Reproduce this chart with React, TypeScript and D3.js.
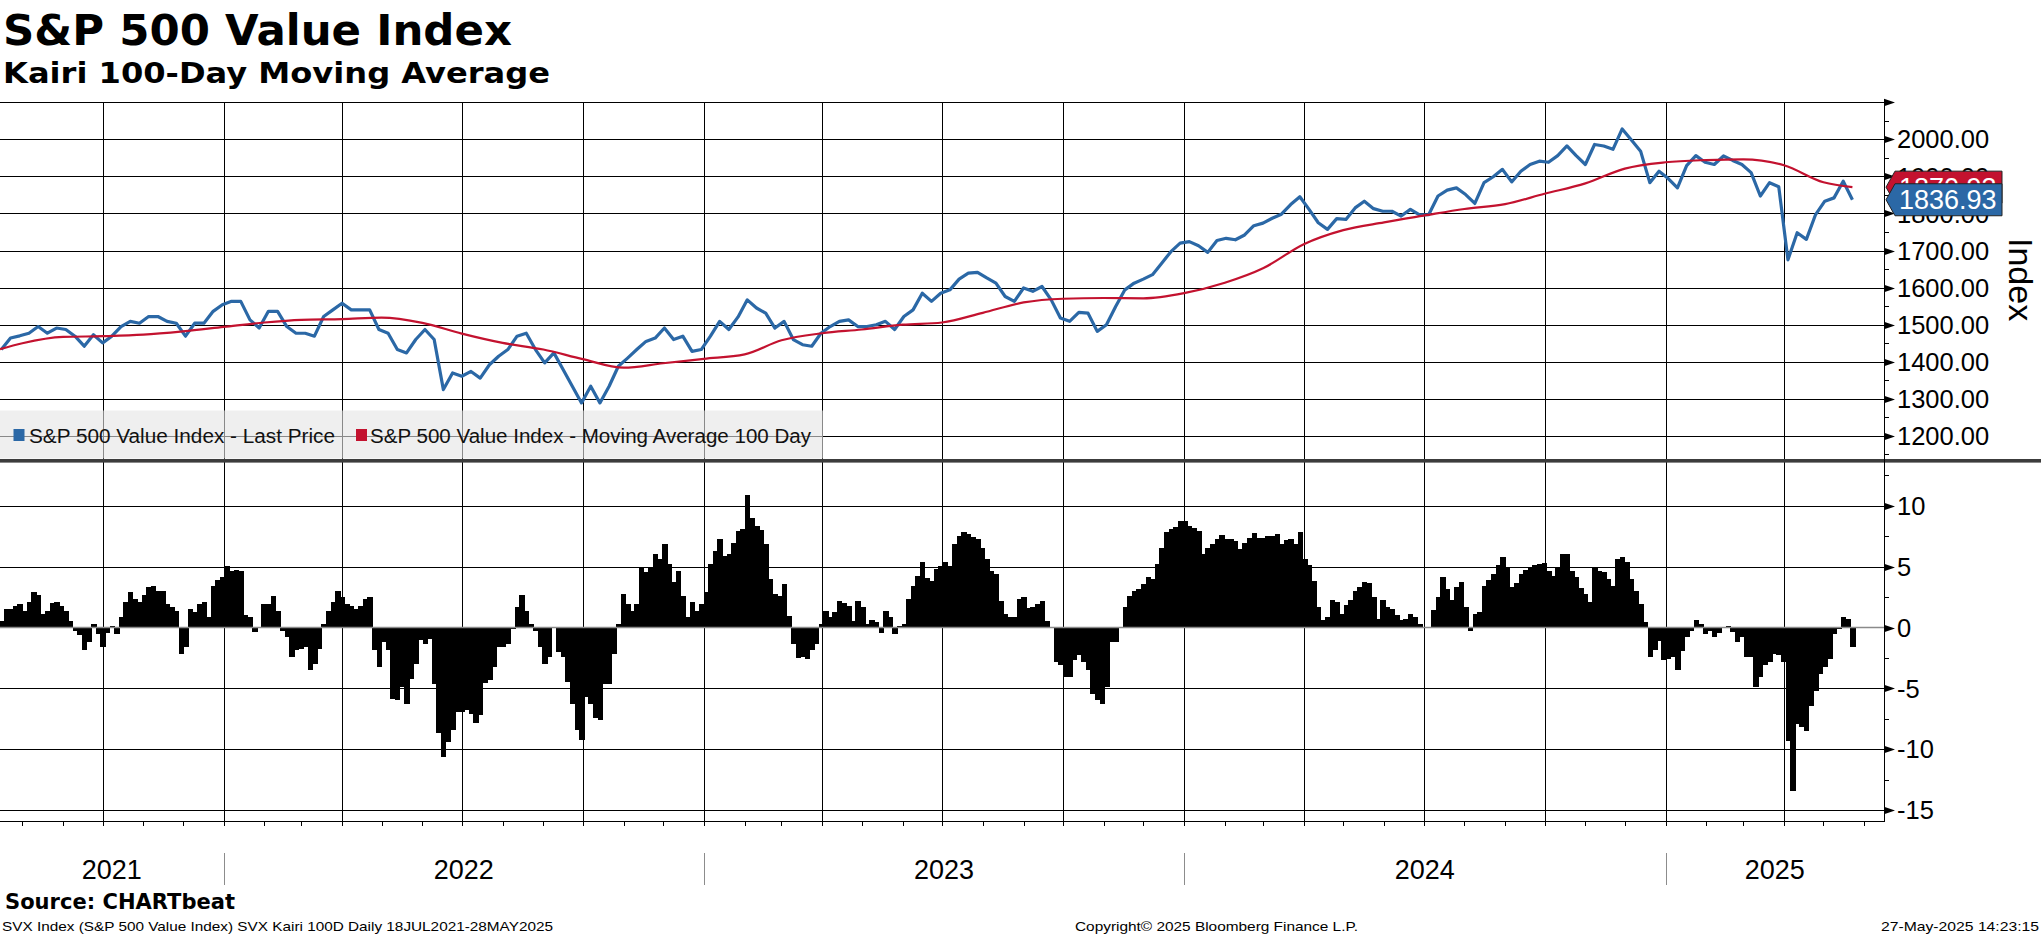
import React, { useEffect, useRef } from 'react';
import * as d3 from 'd3';

// weekly closes, first one on 16 Jul 2021
const firstWeek = '2021-07-16';
const priceValues = [
  1433, 1464, 1470, 1477, 1495, 1477, 1491, 1487, 1469, 1442,
  1473, 1451, 1469, 1495, 1509, 1504, 1522, 1522, 1509, 1504,
  1469, 1504, 1504, 1536, 1554, 1563, 1563, 1513, 1491, 1536,
  1536, 1495, 1477, 1477, 1469, 1522, 1540, 1558, 1540, 1540,
  1540, 1487, 1477, 1433, 1424, 1460, 1487, 1460, 1325, 1370,
  1361, 1374, 1356, 1392, 1415, 1433, 1469, 1477, 1433, 1397,
  1424, 1379, 1334, 1289, 1334, 1289, 1334, 1388, 1410, 1433,
  1455, 1464, 1491, 1460, 1469, 1428, 1433, 1469, 1509, 1487,
  1521, 1567, 1545, 1531, 1491, 1509, 1460, 1446, 1442, 1477,
  1495, 1509, 1513, 1495, 1495, 1500, 1509, 1487, 1522, 1540,
  1585, 1563, 1585, 1594, 1623, 1639, 1641, 1626, 1612, 1576,
  1563, 1599, 1590, 1603, 1567, 1518, 1509, 1533, 1531, 1482,
  1500, 1549, 1594, 1612, 1623, 1635, 1666, 1697, 1720, 1724,
  1713, 1695, 1727, 1733, 1729, 1742, 1767, 1774, 1787, 1798,
  1824, 1845, 1811, 1775, 1757, 1786, 1784, 1815, 1833, 1813,
  1806, 1806, 1793, 1811, 1796, 1797, 1847, 1863, 1869, 1851,
  1827, 1883, 1899, 1919, 1885, 1914, 1932, 1941, 1938, 1956,
  1982, 1956, 1932, 1986, 1982, 1973, 2028, 1998, 1968, 1883,
  1914, 1894, 1869, 1929, 1956, 1938, 1932, 1955, 1943, 1932,
  1910, 1847, 1883, 1872, 1675, 1748, 1730, 1797, 1833, 1842,
  1887, 1836.93
];

// 100 day moving average, month by month
const maDates = [
  '2021-07-15', '2021-08-01', '2021-09-01', '2021-10-01', '2021-11-01', '2021-12-01',
  '2022-01-01', '2022-02-01', '2022-03-01', '2022-04-01', '2022-05-01', '2022-06-01',
  '2022-07-01', '2022-08-01', '2022-09-01', '2022-10-01', '2022-11-01', '2022-12-01',
  '2023-01-01', '2023-02-01', '2023-03-01', '2023-04-01', '2023-05-01', '2023-06-01',
  '2023-07-01', '2023-08-01', '2023-09-01', '2023-10-01', '2023-11-01', '2023-12-01',
  '2024-01-01', '2024-02-01', '2024-03-01', '2024-04-01', '2024-05-01', '2024-06-01',
  '2024-07-01', '2024-08-01', '2024-09-01', '2024-10-01', '2024-11-01', '2024-12-01',
  '2025-01-01', '2025-02-01', '2025-03-01', '2025-04-01', '2025-05-01', '2025-05-23'
];
const maValues = [
  1434, 1450, 1467, 1469, 1473, 1482,
  1494, 1506, 1513, 1515, 1519, 1505,
  1476, 1451, 1433, 1407, 1384, 1396,
  1408, 1420, 1458, 1477, 1487, 1500,
  1506, 1532, 1560, 1570, 1572, 1571,
  1585, 1613, 1652, 1717, 1755, 1776,
  1794, 1812, 1825, 1853, 1881, 1921,
  1938, 1944, 1946, 1930, 1884, 1870.93
];

// Kairi (% away from the 100 day average), twice a week from the first week
const kairiValues = [
  0.5, 1.53, 1.53, 1.77, 1.94, 1.39, 2.07, 2.92, 2.7, 1.12,
  1.39, 2.05, 2.07, 1.8, 1.34, 0.52, -0.3, -0.65, -1.88, -1.2,
  0.25, -0.52, -1.61, -0.46, 0.1, -0.52, 0.85, 2.07, 2.89, 2.35,
  2.07, 2.7, 3.3, 3.44, 3.03, 2.97, 1.94, 1.66, 1.39, -2.15,
  -1.61, 1.53, 1.25, 1.94, 2.07, 0.85, 3.44, 3.9, 4.12, 5.02,
  4.61, 4.72, 4.66, 1.0, 0.85, -0.38, 0.0, 1.94, 1.94, 2.62,
  1.39, -0.3, -0.79, -2.43, -1.88, -1.75, -1.61, -3.52, -2.97, -1.75,
  0.3, 1.39, 2.07, 3.03, 2.48, 1.94, 1.8, 1.53, 1.8, 2.35,
  2.48, -1.88, -3.25, -1.2, -1.88, -5.84, -5.97, -4.88, -6.25, -4.2,
  -2.97, -1.06, -1.34, -0.93, -4.61, -8.7, -10.6, -9.38, -8.43, -6.93,
  -6.93, -6.79, -7.07, -7.88, -7.2, -4.56, -4.34, -3.25, -1.61, -1.61,
  -1.34, -0.11, 1.66, 2.7, 1.39, 0.25, -0.25, -1.61, -2.97, -2.43,
  0.03, -2.02, -2.43, -4.47, -6.25, -8.43, -9.25, -5.7, -6.25, -7.47,
  -7.61, -4.61, -4.61, -2.15, 0.3, 2.76, 1.94, 1.39, 1.94, 4.9,
  4.53, 4.94, 6.03, 5.62, 6.9, 5.21, 3.71, 4.66, 2.62, 0.9,
  2.07, 1.39, 1.94, 2.89, 5.21, 6.3, 7.26, 5.89, 6.03, 6.96,
  7.94, 8.07, 10.9, 9.03, 8.35, 7.99, 6.85, 3.98, 2.75, 2.62,
  3.57, 0.98, -1.34, -2.48, -2.43, -2.56, -1.88, -1.34, 0.3, 1.39,
  0.85, 1.25, 2.21, 1.99, 1.8, 0.57, 2.21, 1.66, 0.3, 0.65,
  0.44, -0.46, 1.39, 0.85, -0.52, 0.16, 0.3, 2.35, 3.44, 4.26,
  5.35, 4.06, 3.85, 4.8, 5.07, 5.35, 5.07, 6.9, 7.53, 7.88,
  7.72, 7.45, 7.26, 6.57, 5.62, 4.66, 4.39, 2.21, 1.12, 0.85,
  0.85, 2.35, 2.48, 1.61, 1.66, 1.94, 2.21, 0.57, 0.03, -2.84,
  -3.11, -4.06, -4.07, -2.7, -2.29, -2.84, -3.52, -5.43, -5.97, -6.25,
  -4.88, -1.2, -1.2, 0.03, 1.66, 2.62, 3.03, 3.16, 3.57, 4.12,
  3.98, 5.21, 6.57, 7.83, 8.07, 8.27, 8.76, 8.76, 8.35, 8.16,
  7.94, 6.03, 6.57, 6.9, 7.26, 7.61, 7.26, 7.26, 7.12, 6.44,
  6.98, 7.39, 7.8, 7.39, 7.39, 7.5, 7.53, 7.7, 6.88, 7.15,
  7.29, 6.88, 7.84, 5.64, 5.1, 3.86, 1.67, 0.58, 0.85, 2.22,
  2.08, 1.12, 1.81, 2.22, 3.04, 3.32, 3.73, 3.64, 2.49, 0.71,
  2.22, 1.67, 1.53, 0.99, 0.58, 0.71, 1.07, 0.85, 0.3, 0.08,
  0.03, 1.4, 2.49, 4.14, 3.18, 2.27, 3.32, 3.73, 1.67, -0.25,
  1.12, 1.26, 3.45, 3.92, 4.41, 5.1, 5.78, 4.96, 3.32, 3.64,
  4.41, 4.74, 4.9, 5.12, 5.23, 5.34, 4.68, 4.27, 4.96, 6.0,
  6.05, 4.68, 4.14, 3.26, 2.77, 2.08, 4.96, 4.68, 4.55, 4.0,
  3.45, 5.64, 5.78, 5.37, 4.0, 3.04, 1.95, 0.49, -2.44, -1.84,
  -1.07, -2.71, -2.58, -2.41, -3.53, -1.89, -0.79, -0.25, 0.58, 0.3,
  -0.52, -0.3, -0.79, -0.47, 0.03, 0.16, -0.38, -1.21, -0.79, -2.44,
  -2.44, -4.9, -4.08, -3.12, -2.85, -2.16, -2.3, -2.85, -9.3, -13.4,
  -7.92, -8.19, -8.47, -6.41, -5.18, -3.81, -3.26, -2.58, -0.52, -0.11,
  0.85, 0.7, -1.62
];

const priceTicks = [1200, 1300, 1400, 1500, 1600, 1700, 1800, 1900, 2000, 2100];
const kairiTicks = [-15, -10, -5, 0, 5, 10];
const legendLabels = ['S&P 500 Value Index - Last Price', 'S&P 500 Value Index - Moving Average 100 Day'];

const W = 2041;
const H = 936;
const BLUE = '#2b68a6';
const RED = '#c3122f';
const AXIS_FONT = "'Liberation Sans', Arial, sans-serif";
const BOLD_FONT = "'DejaVu Sans', Verdana, sans-serif";
const DAY = 864e5;

export default function App() {
  const svgRef = useRef<SVGSVGElement>(null);

  useEffect(() => {
    document.body.style.margin = '0';
    if (!svgRef.current) return;
    const svg = d3.select(svgRef.current);
    svg.selectAll('*').remove();

    const plotRight = 1884;
    const x = d3.scaleUtc()
      .domain([new Date(Date.UTC(2021, 6, 15)), new Date(Date.UTC(2025, 5, 16))])
      .range([0, plotRight]);
    const yP = d3.scaleLinear().domain([1140, 2100]).range([458.2, 102.2]);
    const yK = d3.scaleLinear().domain([-15.9, 13.6]).range([821, 462]);

    const start = new Date(firstWeek + 'T00:00:00Z');
    const price = priceValues.map((v, i) => ({ date: d3.utcDay.offset(start, 7 * i), value: v }));
    const ma = maValues.map((v, i) => ({ date: new Date(maDates[i] + 'T00:00:00Z'), value: v }));
    const kairi = kairiValues.map((v, i) => ({ date: new Date(start.getTime() + i * 3.5 * DAY), value: v }));

    const [d0, d1] = x.domain();
    const quarters = d3.utcMonth.every(3)!.range(d0, d1);
    const months = d3.utcMonth.range(d0, d1);
    const years = d3.utcYear.range(d0, d1);

    const topPanel = [102.2, 459];
    const botPanel = [462, 821];

    // grid
    const grid = svg.append('g').attr('stroke', '#000').attr('stroke-width', 1);
    quarters.forEach(q => {
      const xx = Math.round(x(q)) + 0.5;
      grid.append('line').attr('x1', xx).attr('x2', xx).attr('y1', topPanel[0]).attr('y2', topPanel[1]);
      grid.append('line').attr('x1', xx).attr('x2', xx).attr('y1', botPanel[0]).attr('y2', botPanel[1]);
    });
    priceTicks.forEach(t => {
      const yy = Math.round(yP(t)) + 0.5;
      grid.append('line').attr('x1', 0).attr('x2', plotRight).attr('y1', yy).attr('y2', yy);
    });
    kairiTicks.filter(t => t !== 0).forEach(t => {
      const yy = Math.round(yK(t)) + 0.5;
      grid.append('line').attr('x1', 0).attr('x2', plotRight).attr('y1', yy).attr('y2', yy);
    });

    // kairi histogram
    const half = (x(new Date(start.getTime() + 3.5 * DAY)) - x(start)) / 2;
    svg.append('g').attr('shape-rendering', 'crispEdges')
      .selectAll('rect').data(kairi).join('rect')
      .attr('x', d => x(d.date) - half)
      .attr('width', half * 2 + 0.8)
      .attr('y', d => yK(Math.max(0, d.value)))
      .attr('height', d => Math.abs(yK(d.value) - yK(0)))
      .attr('fill', '#000');
    svg.append('line')
      .attr('x1', 0).attr('x2', plotRight)
      .attr('y1', yK(0)).attr('y2', yK(0))
      .attr('stroke', '#8a8a8a').attr('stroke-width', 1.6);

    // price panel lines
    svg.append('defs').append('clipPath').attr('id', 'topclip')
      .append('rect').attr('x', 0).attr('y', topPanel[0]).attr('width', plotRight).attr('height', topPanel[1] - topPanel[0]);
    const lineP = d3.line<{ date: Date; value: number }>().x(d => x(d.date)).y(d => yP(d.value));
    const lines = svg.append('g').attr('clip-path', 'url(#topclip)');
    lines.append('path').datum(price).attr('d', lineP)
      .attr('fill', 'none').attr('stroke', BLUE).attr('stroke-width', 3.2).attr('stroke-linejoin', 'round');
    lines.append('path').datum(ma).attr('d', lineP.curve(d3.curveMonotoneX))
      .attr('fill', 'none').attr('stroke', RED).attr('stroke-width', 2.2);

    // legend
    const lg = svg.append('g');
    lg.append('rect').attr('x', 0).attr('y', 410.5).attr('width', 823).attr('height', 48)
      .attr('fill', '#e4e4e4').attr('fill-opacity', 0.6);
    const legendPos = [{ sq: 13.5, tx: 29, len: 306, color: BLUE }, { sq: 356, tx: 370, len: 441, color: RED }];
    legendLabels.forEach((label, i) => {
      const p = legendPos[i];
      lg.append('rect').attr('x', p.sq).attr('y', 429).attr('width', 11).attr('height', 12).attr('fill', p.color);
      lg.append('text').attr('x', p.tx).attr('y', 442.5).attr('font-family', AXIS_FONT).attr('font-size', 20)
        .attr('textLength', p.len).attr('lengthAdjust', 'spacingAndGlyphs').attr('fill', '#111').text(label);
    });

    // panel separator
    svg.append('rect').attr('x', 0).attr('y', 459).attr('width', W).attr('height', 3.6).attr('fill', '#3c3c3c');

    // right axis
    const ax = svg.append('g');
    ax.append('line').attr('x1', plotRight + 0.5).attr('x2', plotRight + 0.5).attr('y1', 101).attr('y2', 821)
      .attr('stroke', '#000');
    const arrow = (yy: number) => ax.append('path')
      .attr('d', `M${plotRight},${yy - 3.8}L${plotRight + 11},${yy}L${plotRight},${yy + 3.8}Z`).attr('fill', '#000');
    const minor = (yy: number) => ax.append('line').attr('x1', plotRight).attr('x2', plotRight + 5)
      .attr('y1', yy).attr('y2', yy).attr('stroke', '#000');
    priceTicks.forEach(t => {
      arrow(Math.round(yP(t)) + 0.5);
      if (t < 2100) {
        ax.append('text').attr('x', 1897).attr('y', yP(t)).attr('dy', '0.36em')
          .attr('font-family', AXIS_FONT).attr('font-size', 25.5).attr('fill', '#000').text(d3.format('.2f')(t));
      }
    });
    d3.range(1150, 2100, 100).forEach(t => minor(Math.round(yP(t)) + 0.5));
    kairiTicks.forEach(t => {
      arrow(Math.round(yK(t)) + 0.5);
      ax.append('text').attr('x', 1897).attr('y', yK(t)).attr('dy', '0.36em')
        .attr('font-family', AXIS_FONT).attr('font-size', 25.5).attr('fill', '#000').text(String(t));
    });
    d3.range(-12.5, 13.6, 5).forEach(t => minor(Math.round(yK(t)) + 0.5));

    ax.append('text').attr('transform', 'translate(2009,238) rotate(90)')
      .attr('font-family', AXIS_FONT).attr('font-size', 34).attr('fill', '#000').text('Index');

    // bottom axis
    ax.append('line').attr('x1', 0).attr('x2', plotRight + 1).attr('y1', 821.5).attr('y2', 821.5).attr('stroke', '#000');
    months.forEach(m => {
      const xx = Math.round(x(m)) + 0.5;
      ax.append('line').attr('x1', xx).attr('x2', xx).attr('y1', 821).attr('y2', 826).attr('stroke', '#000');
    });
    years.forEach(yr => {
      const xx = Math.round(x(yr)) + 0.5;
      ax.append('line').attr('x1', xx).attr('x2', xx).attr('y1', 853).attr('y2', 885).attr('stroke', '#8c8c8c');
    });
    const bounds = [d0, ...years, d1];
    bounds.slice(0, -1).forEach((b, i) => {
      const mid = (x(b) + x(bounds[i + 1])) / 2;
      ax.append('text').attr('x', mid).attr('y', 879).attr('text-anchor', 'middle')
        .attr('font-family', AXIS_FONT).attr('font-size', 27).attr('fill', '#000').text(d3.utcFormat('%Y')(b));
    });

    // last value tags
    const tag = (v: number, color: string) => {
      const cy = yP(v);
      const g = svg.append('g');
      g.append('path')
        .attr('d', `M1886,${cy}L1895,${cy - 16}L2002,${cy - 16}L2002,${cy + 16}L1895,${cy + 16}Z`)
        .attr('fill', color).attr('stroke', '#222').attr('stroke-width', 1);
      g.append('text').attr('x', 1899).attr('y', cy).attr('dy', '0.36em')
        .attr('font-family', AXIS_FONT).attr('font-size', 27).attr('fill', '#fff').text(d3.format('.2f')(v));
    };
    tag(maValues[maValues.length - 1], RED);
    tag(priceValues[priceValues.length - 1], BLUE);

    // titles and footer
    svg.append('text').attr('x', 3).attr('y', 45).attr('font-family', BOLD_FONT).attr('font-weight', 'bold')
      .attr('font-size', 43).attr('textLength', 509).attr('lengthAdjust', 'spacingAndGlyphs').text('S&P 500 Value Index');
    svg.append('text').attr('x', 3).attr('y', 83).attr('font-family', BOLD_FONT).attr('font-weight', 'bold')
      .attr('font-size', 29).attr('textLength', 547).attr('lengthAdjust', 'spacingAndGlyphs').text('Kairi 100-Day Moving Average');
    svg.append('text').attr('x', 5).attr('y', 909).attr('font-family', BOLD_FONT).attr('font-weight', 'bold')
      .attr('font-size', 20.5).attr('textLength', 230).attr('lengthAdjust', 'spacingAndGlyphs').text('Source: CHARTbeat');
    const foot = (tx: number, len: number, s: string) => svg.append('text').attr('x', tx).attr('y', 931)
      .attr('font-family', AXIS_FONT).attr('font-size', 13).attr('textLength', len)
      .attr('lengthAdjust', 'spacingAndGlyphs').attr('fill', '#000').text(s);
    foot(2, 551, 'SVX Index (S&P 500 Value Index) SVX Kairi 100D  Daily 18JUL2021-28MAY2025');
    foot(1075, 283, 'Copyright\u00a9 2025 Bloomberg Finance L.P.');
    foot(1881, 158, '27-May-2025 14:23:15');
  }, []);

  return (
    <div style={{ width: W, height: H, background: '#fff' }}>
      <svg ref={svgRef} width={W} height={H} style={{ display: 'block' }} />
    </div>
  );
}
